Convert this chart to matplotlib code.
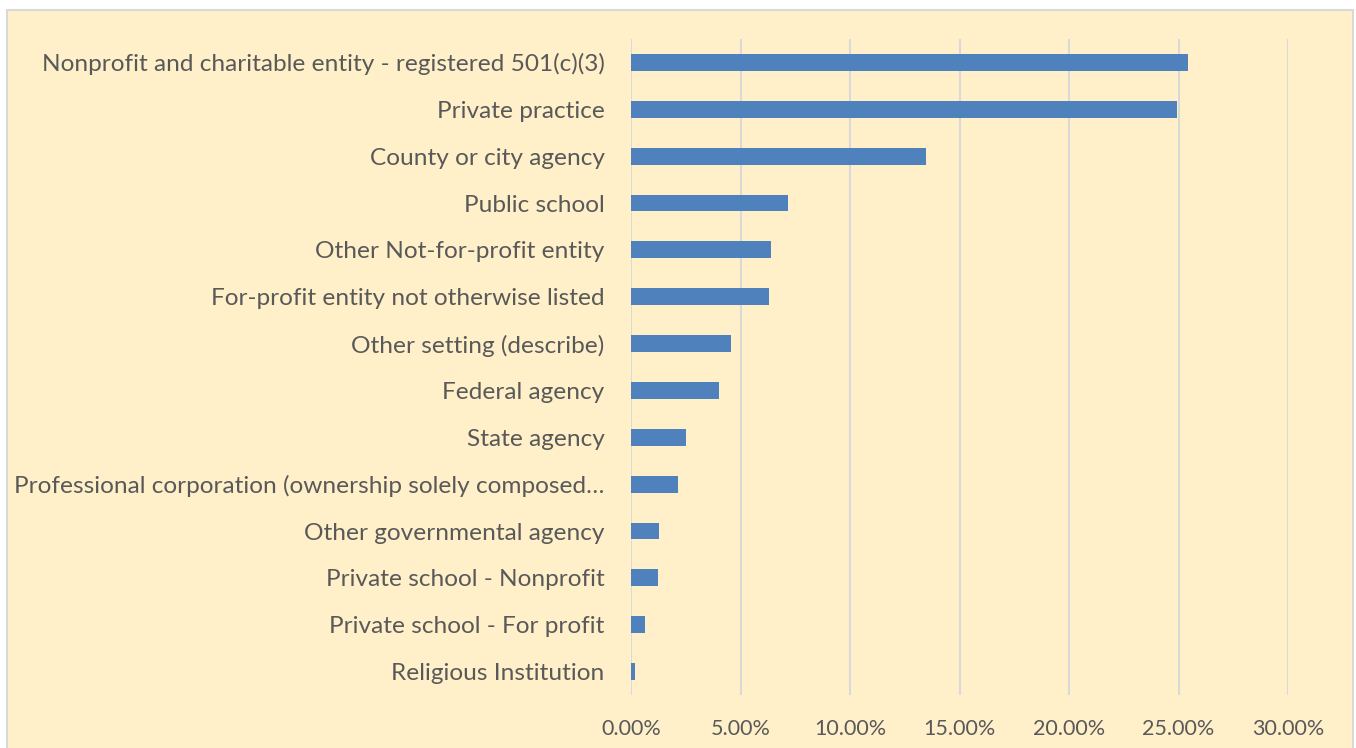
import matplotlib.pyplot as plt
from matplotlib.patches import Rectangle
from matplotlib.ticker import FuncFormatter

categories = [
    "Nonprofit and charitable entity - registered 501(c)(3)",
    "Private practice",
    "County or city agency",
    "Public school",
    "Other Not-for-profit entity",
    "For-profit entity not otherwise listed",
    "Other setting (describe)",
    "Federal agency",
    "State agency",
    "Professional corporation (ownership solely composed\u2026",
    "Other governmental agency",
    "Private school - Nonprofit",
    "Private school - For profit",
    "Religious Institution",
]
shares = [25.42, 24.92, 13.45, 7.15, 6.38, 6.30, 4.55, 4.00, 2.53, 2.13,
          1.26, 1.22, 0.62, 0.16]
x_ticks = [0, 5, 10, 15, 20, 25, 30]

bg = "#FFF0C9"
text_col = "#595959"

fig = plt.figure(figsize=(13.56, 7.48), dpi=100)
fig.patch.set_facecolor("white")
# chart area with thin grey border
fig.patches.append(Rectangle((7 / 1356, -0.01), 1346 / 1356, 1 - 10 / 748 + 0.01,
                             transform=fig.transFigure, facecolor=bg,
                             edgecolor="#D9D9D9", linewidth=1.5, zorder=-5))

ax = fig.add_axes([631 / 1356, 53 / 748, 657 / 1356, 656 / 748])
ax.set_zorder(2)
ax.set_facecolor("none")

y = list(range(len(categories)))
ax.barh(y, shares, height=0.36, color="#4F81BD", zorder=3)
ax.set_ylim(len(categories) - 0.5, -0.5)
ax.set_xlim(0, 30)
ax.set_xticks(x_ticks)
ax.xaxis.set_major_formatter(FuncFormatter(lambda v, p: f"{v:.2f}%"))
ax.set_yticks(y)
ax.set_yticklabels(categories)

ax.grid(axis="x", color="#D9D9D9", linewidth=1.5, zorder=0)
ax.set_axisbelow(True)
for s in ax.spines.values():
    s.set_visible(False)
ax.tick_params(axis="both", length=0, colors=text_col)
ax.tick_params(axis="y", pad=19, labelsize=17.6)
ax.tick_params(axis="x", pad=17, labelsize=15.5)
for lab in ax.get_xticklabels() + ax.get_yticklabels():
    lab.set_family("Lato")
    lab.set_color(text_col)

fig.savefig("out.png", dpi=100)
